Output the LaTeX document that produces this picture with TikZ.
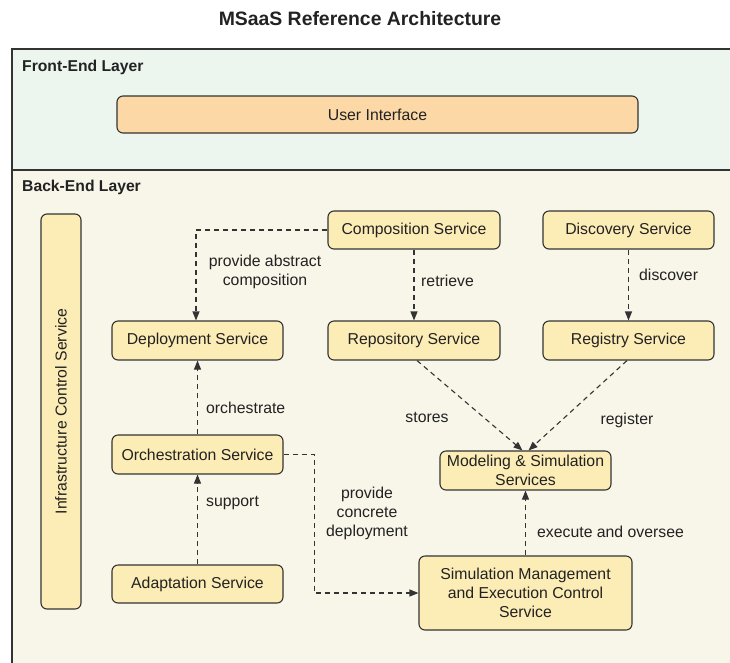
\documentclass[tikz,border=0pt]{standalone}
\usepackage{fontspec}
\setmainfont{Liberation Sans}
\usetikzlibrary{arrows.meta,calc}
\definecolor{frontbg}{HTML}{EDF6EE}
\definecolor{backbg}{HTML}{F8F5E9}
\definecolor{svcfill}{HTML}{FCECB5}
\definecolor{uifill}{HTML}{FBD8A6}
\definecolor{ink}{HTML}{222222}
\definecolor{edgecol}{HTML}{333333}
\begin{document}
\begin{tikzpicture}[x=1pt,y=-1pt,
  every node/.style={font=\fontsize{15.8}{19}\selectfont, text=ink},
  svc/.style={draw=edgecol, line width=1.1pt, fill=svcfill, rounded corners=6pt, inner sep=0pt, align=center, minimum height=39pt},
  conn/.style={draw=edgecol, line width=1.1pt, dash pattern=on 5pt off 4pt, -{Triangle[length=9pt,width=7pt]}},
  lbl/.style={inner sep=0pt, align=center},
  layerlbl/.style={inner sep=0pt, anchor=west, font=\fontsize{15.7}{19}\selectfont\bfseries},
]
\useasboundingbox (0,0) rectangle (730,662);
\begin{scope}
\clip (0,0) rectangle (730,662);
\draw[fill=frontbg, line width=1.3pt, draw=edgecol] (12,49) rectangle (745,170);
\draw[fill=backbg, line width=1.3pt, draw=edgecol] (12,170) rectangle (745,690);
\end{scope}

\node[inner sep=0pt, font=\fontsize{19.4}{22}\selectfont\bfseries] (title) at (360,18.5) {MSaaS Reference Architecture};
\node[layerlbl] (front) at (22,67) {Front-End Layer};
\node[layerlbl] (back) at (22,187) {Back-End Layer};

\node[svc, fill=uifill, minimum width=521pt, minimum height=37pt] (ui) at (377.5,114.5) {User Interface};

\node[svc, rotate=90, minimum width=395pt, minimum height=40pt] (infra) at (61,411.5) {Infrastructure Control Service};

\node[svc, minimum width=172pt, minimum height=38pt] (comp) at (414,230) {Composition Service};
\node[svc, minimum width=171pt, minimum height=38pt] (disc) at (628.5,230) {Discovery Service};
\node[svc, minimum width=171pt] (deploy) at (197.5,340.5) {Deployment Service};
\node[svc, minimum width=172pt] (repo) at (414,340.5) {Repository Service};
\node[svc, minimum width=171pt] (reg) at (628.5,340.5) {Registry Service};
\node[svc, minimum width=171pt] (orch) at (197.5,454.5) {Orchestration Service};
\node[svc, minimum width=171pt, minimum height=38pt] (adapt) at (197.5,584) {Adaptation Service};
\node[svc, minimum width=171pt] (model) at (525.5,470.5) {Modeling \& Simulation\\Services};
\node[svc, minimum width=213pt, minimum height=74pt] (sim) at (525.5,593) {Simulation Management\\and Execution Control\\Service};

\draw[conn] (comp.west) -| ([xshift=-1.5pt]deploy.north);
\draw[conn] (comp.south) -- (repo.north);
\draw[conn] (disc.south) -- (reg.north);
\draw[conn] ([xshift=3pt]repo.south) -- ([xshift=-3pt]model.north);
\draw[conn] ([xshift=-1.5pt]reg.south) -- ([xshift=3pt]model.north);
\draw[conn] (orch.north) -- (deploy.south);
\draw[conn] (adapt.north) -- (orch.south);
\draw[conn] (orch.east) -- ++(31,0) |- (sim.west);
\draw[conn] (sim.north) -- (model.south);

\node[lbl] (l1) at (265,271.5) {provide abstract\\composition};
\node[lbl, anchor=west] (l2) at (421,281) {retrieve};
\node[lbl, anchor=west] (l3) at (639,275) {discover};
\node[lbl] (l4) at (427,417) {stores};
\node[lbl] (l5) at (627,420) {register};
\node[lbl, anchor=west] (l6) at (206,408) {orchestrate};
\node[lbl, anchor=west] (l7) at (206,503) {support};
\node[lbl] (l8) at (367,513) {provide\\concrete\\deployment};
\node[lbl, anchor=west] (l9) at (537,532) {execute and oversee};
\end{tikzpicture}
\end{document}
